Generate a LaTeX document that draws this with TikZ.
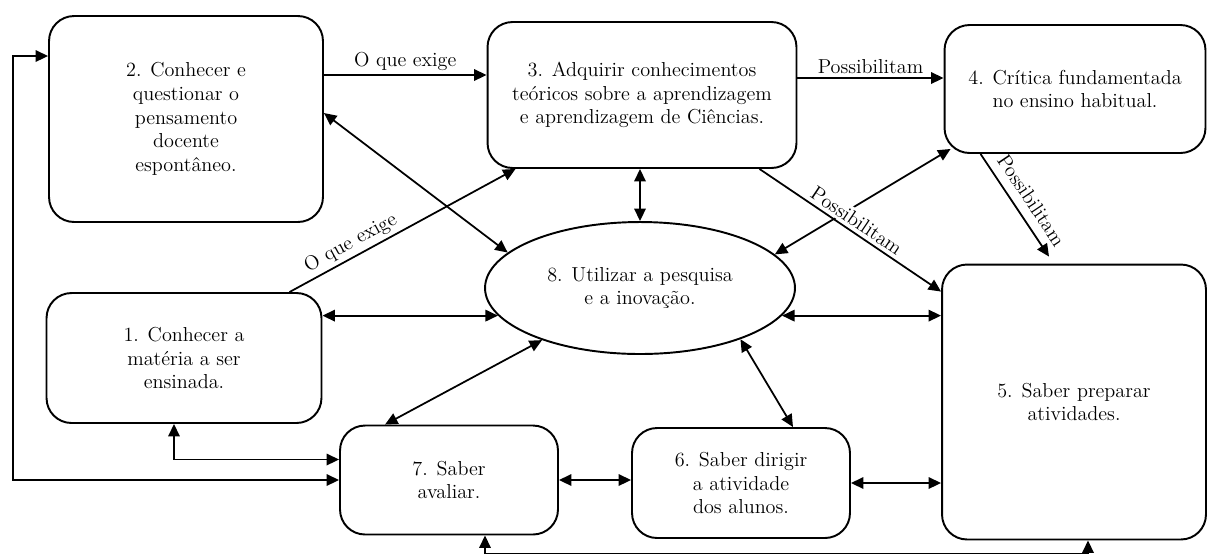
\documentclass[tikz,border=0pt]{standalone}
\usepackage{fontspec}
\usepackage{tikz}
\usetikzlibrary{arrows.meta}
\usetikzlibrary{shapes.geometric}
\tikzset{>={Triangle[length=2.5mm, width=2.3mm]}}
\tikzset{box/.style = {draw, rounded corners = 0.5cm, line width = 1.1pt,
                       align = center, inner sep = 0,
                       font = \fontsize{11.5}{13.5}\selectfont}}
\tikzset{oval/.style = {draw, ellipse, line width = 1.1pt, align = center,
                        inner sep = 0, font = \fontsize{11.5}{13.5}\selectfont}}
\tikzset{lbl/.style = {font = \fontsize{11.5}{13}\selectfont, inner sep = 1.5pt,
                       outer sep = 1pt}}

\begin{document}
\begin{tikzpicture}[x=0.02cm, y=-0.02cm, line width=1pt]
      \useasboundingbox (0, 0) rectangle (1209, 556);

      \node (b2) at (186, 119) [box, minimum width=5.48cm, minimum height=4.12cm]
            {2. Conhecer e\\questionar o\\pensamento\\docente\\espontâneo.};
      \node (b3) at (642, 95) [box, minimum width=6.18cm, minimum height=2.92cm]
            {3. Adquirir conhecimentos\\teóricos sobre a aprendizagem\\e aprendizagem de Ciências.};
      \node (b4) at (1075, 89) [box, minimum width=5.22cm, minimum height=2.56cm]
            {4. Crítica fundamentada\\no ensino habitual.};
      \node (e8) at (640, 288) [oval, minimum width=6.2cm, minimum height=2.64cm]
            {8. Utilizar a pesquisa\\e a inovação.};
      \node (b1) at (184, 358) [box, minimum width=5.5cm, minimum height=2.6cm]
            {1. Conhecer a\\matéria a ser\\ensinada.};
      \node (b5) at (1074, 402) [box, minimum width=5.28cm, minimum height=5.5cm]
            {5. Saber preparar\\atividades.};
      \node (b7) at (449, 480) [box, minimum width=4.36cm, minimum height=2.18cm]
            {7. Saber\\avaliar.};
      \node (b6) at (741, 483) [box, minimum width=4.36cm, minimum height=2.2cm]
            {6. Saber dirigir\\a atividade\\dos alunos.};

      \draw [->] (b2.east |- 0,75) -- (b3.west |- 0,75) node [lbl, midway, above] {O que exige};
      \draw [->] (b3.east |- 0,78) -- (b4.west |- 0,78) node [lbl, midway, above] {Possibilitam};
      \draw [->] ([xshift=2.11cm]b1.north) -- ([xshift=-2.53cm]b3.south)
            node [lbl, pos=0.3, sloped, above] {O que exige};
      \draw [<->] ([yshift=0.12cm]b2.east) -- (e8.165);
      \draw [<->] (b3.south -| e8.north) -- (e8.north);
      \draw [<->] ([shift={(0.14cm, 0.1cm)}]b4.south west) -- (e8.14);
      \draw [->] ([xshift=2.35cm]b3.south) -- ([yshift=-0.56cm]b5.north west)
            node [lbl, fill=white, pos=0.5, sloped, above] {Possibilitam};
      \draw [->] ([xshift=0.74cm]b4.south west) -- ([xshift=-0.5cm, yshift=0.14cm]b5.north)
            node [lbl, pos=0.54, sloped, above=3pt] {Possibilitam};
      \draw [<->] (b1.east |- e8.191) -- (e8.191);
      \draw [<->] (e8.-11) -- (b5.west |- e8.-11);
      \draw [<->] ([xshift=-1.28cm]b7.north) -- (e8.208);
      \draw [<->] (e8.-27) -- ([xshift=1.04cm]b6.north);
      \draw [<->] (b7.east) -- (b7.east -| b6.west);
      \draw [<->] (b6.east) -- (b6.east -| b5.west);
      \draw [<->] ([xshift=-0.2cm]b1.south) |- ([yshift=0.41cm]b7.west);
      \draw [<->] ([yshift=1.26cm]b2.west) -- ++(-0.7cm, 0) |- (b7.west);
      \draw [<->] ([xshift=0.28cm]b5.south) -- ++(0, -0.26cm) -| ([xshift=0.72cm]b7.south);
\end{tikzpicture}
\end{document}
